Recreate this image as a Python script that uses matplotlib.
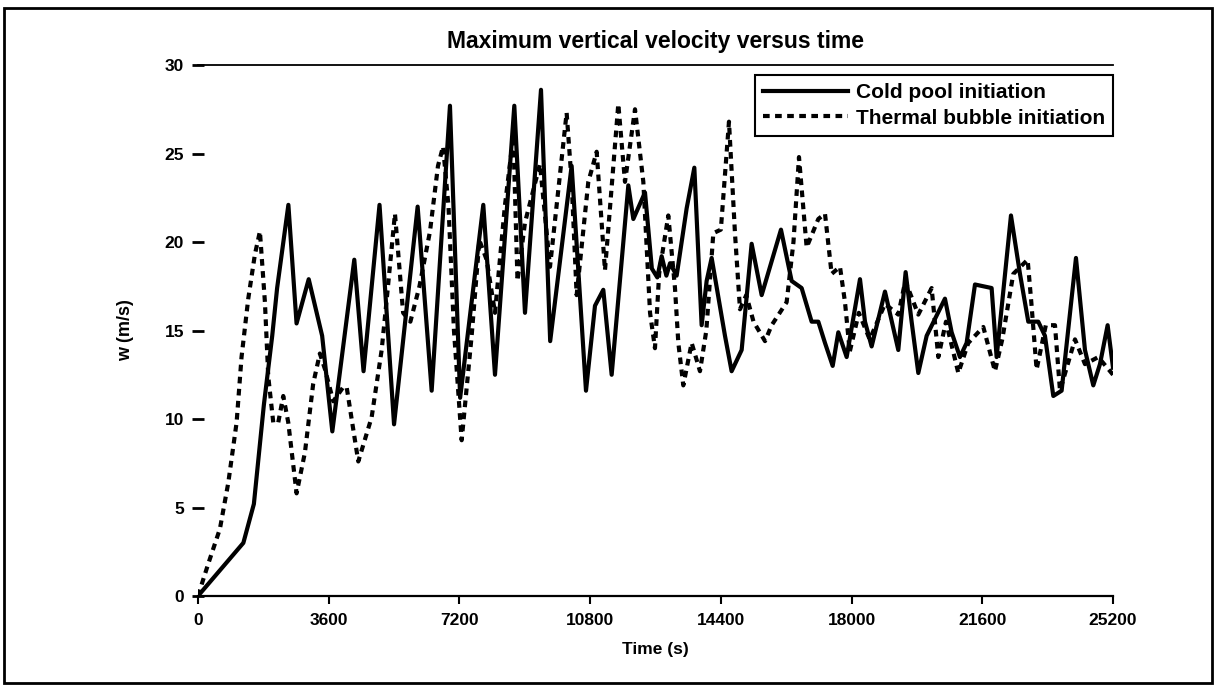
import matplotlib
matplotlib.use("Agg")
import matplotlib.pyplot as plt
from matplotlib.patches import Rectangle

plt.rcParams['font.family'] = ['Liberation Sans', 'DejaVu Sans']
plt.rcParams['font.weight'] = 'bold'
plt.rcParams['axes.titleweight'] = 'bold'
plt.rcParams['axes.labelweight'] = 'bold'

# --- data (time in s, w in m/s) ---
t_cold = [0, 1250, 1540, 1815, 2045, 2180, 2490, 2715, 3050, 3420, 3700, 4305, 4560,
          5000, 5400, 6050, 6436, 6940, 7220, 7858, 8180, 8712, 9006, 9447, 9700,
          10291, 10686, 10934, 11163, 11393, 11852, 11990, 12311, 12500, 12650, 12770,
          12900, 13000, 13183, 13458, 13670, 13871, 14009, 14147, 14514, 14697, 14973,
          15248, 15524, 16056, 16350, 16625, 16900, 17084, 17268, 17480, 17635, 17865,
          18232, 18370, 18553, 18920, 19287, 19489, 19654, 19838, 20068, 20572, 20756,
          20985, 21169, 21399, 21857, 21995, 22390, 22638, 22867, 23142, 23326, 23556,
          23785, 24180, 24428, 24657, 24841, 25052, 25200]
w_cold = [0.0, 3.0, 5.2, 10.8, 14.7, 17.4, 22.1, 15.4, 17.9, 14.7, 9.3, 19.0, 12.7,
          22.1, 9.7, 22.0, 11.6, 27.7, 11.2, 22.1, 12.5, 27.7, 16.0, 28.6, 14.4,
          24.3, 11.6, 16.4, 17.3, 12.5, 23.2, 21.3, 22.8, 18.5, 18.0, 19.2,
          18.1, 18.8, 18.1, 21.9, 24.2, 15.3, 17.8, 19.1, 14.7, 12.7, 13.9,
          19.9, 17.0, 20.7, 17.8, 17.4, 15.5, 15.5, 14.3, 13.0, 14.9, 13.5,
          17.9, 15.5, 14.1, 17.2, 13.9, 18.3, 15.5, 12.6, 14.7, 16.8, 14.9,
          13.5, 14.3, 17.6, 17.4, 13.5, 21.5, 18.2, 15.5, 15.5, 14.7, 11.3,
          11.6, 19.1, 13.9, 11.9, 13.1, 15.3, 12.9]

t_thermal = [0, 280, 605, 835, 1064, 1200, 1385, 1568, 1706, 1844, 1936, 2074, 2211,
             2349, 2487, 2716, 2945, 3174, 3357, 3500, 3726, 4000, 4095, 4415, 4783,
             5059, 5200, 5425, 5550, 5650, 5850, 6100, 6390, 6610, 6750, 6900, 7050,
             7262, 7537, 7750, 7950, 8180, 8450, 8685, 8800, 9006, 9419, 9695, 10153,
             10291, 10429, 10750, 10980, 11209, 11576, 11760, 12036, 12265, 12450,
             12586, 12700, 12953, 13137, 13229, 13366, 13596, 13825, 14000, 14193,
             14400, 14624, 14789, 14927, 15100, 15300, 15616, 15800, 16212, 16400,
             16552, 16763, 17084, 17268, 17451, 17681, 17819, 17950, 18200, 18500,
             18920, 19287, 19480, 19838, 20205, 20389, 20600, 20940, 21215, 21628,
             21949, 22150, 22454, 22849, 22950, 23096, 23350, 23602, 23740, 24153,
             24428, 24795, 25200]
w_thermal = [0.0, 1.8, 3.8, 6.4, 9.8, 13.5, 16.8, 19.3, 20.6, 16.6, 12.4, 9.8, 9.8,
             11.3, 9.8, 5.8, 8.1, 12.0, 13.7, 12.8, 11.0, 11.8, 11.8, 7.6, 10.1,
             13.9, 16.8, 21.6, 18.5, 16.0, 15.5, 17.5, 20.6, 24.3, 25.4, 22.0, 15.0,
             8.8, 14.7, 20.1, 19.0, 16.0, 22.0, 26.0, 17.8, 21.1, 24.4, 18.6, 27.3,
             23.4, 17.0, 23.4, 25.1, 18.4, 27.8, 23.4, 27.5, 23.4, 16.0,
             14.0, 18.2, 21.5, 17.4, 14.3, 11.9, 14.3, 12.7, 15.0, 20.5,
             20.7, 26.8, 20.5, 16.2, 17.0, 15.5, 14.4, 15.3, 16.6, 20.0,
             24.8, 19.7, 21.3, 21.6, 18.2, 18.6, 16.6, 13.8, 16.0, 14.5,
             16.5, 15.9, 17.8, 15.9, 17.4, 13.5, 15.5, 12.6, 14.3, 15.2,
             12.7, 14.5, 18.2, 19.0, 16.6, 12.8, 15.3, 15.3, 11.6, 14.5,
             13.1, 13.5, 12.5]

x_ticks = [0, 3600, 7200, 10800, 14400, 18000, 21600, 25200]
y_ticks = [0, 5, 10, 15, 20, 25, 30]

fig = plt.figure(figsize=(12.16, 6.86), dpi=100)
ax = fig.add_axes([0.1628, 0.1312, 0.7525, 0.774])

ax.plot(t_cold, w_cold, color='black', lw=3.0, label='Cold pool initiation')
ax.plot(t_thermal, w_thermal, color='black', lw=3.0, linestyle=(0, (1.6, 1.3)),
        label='Thermal bubble initiation')

ax.set_xlim(0, 25200)
ax.set_ylim(0, 30)
ax.set_xticks(x_ticks)
ax.set_yticks(y_ticks)

ax.spines['left'].set_visible(False)
ax.spines['right'].set_visible(False)
ax.spines['top'].set_linewidth(1.3)
ax.spines['bottom'].set_linewidth(1.6)
ax.tick_params(axis='y', direction='inout', length=8, width=2, pad=6, labelsize=12.5)
ax.tick_params(axis='x', direction='out', length=6, width=1.5, pad=6, labelsize=12.5)

ax.set_title('Maximum vertical velocity versus time', fontsize=16.5, pad=12)
ax.set_xlabel('Time (s)', fontsize=12.5, labelpad=10)
ax.set_ylabel('w (m/s)', fontsize=13, labelpad=22)

leg = ax.legend(loc='upper right', bbox_to_anchor=(1.0, 0.981), borderaxespad=0,
                fontsize=15, handlelength=4.1, labelspacing=0.3, fancybox=False,
                framealpha=1, edgecolor='black', borderpad=0.4, handletextpad=0.35)
leg.get_frame().set_linewidth(1.5)

# frame around the whole figure
fig.patches.append(Rectangle((0.003, 0.004), 0.994, 0.984, transform=fig.transFigure,
                             fill=False, edgecolor='black', lw=2))

fig.savefig('out.png', dpi=100)
